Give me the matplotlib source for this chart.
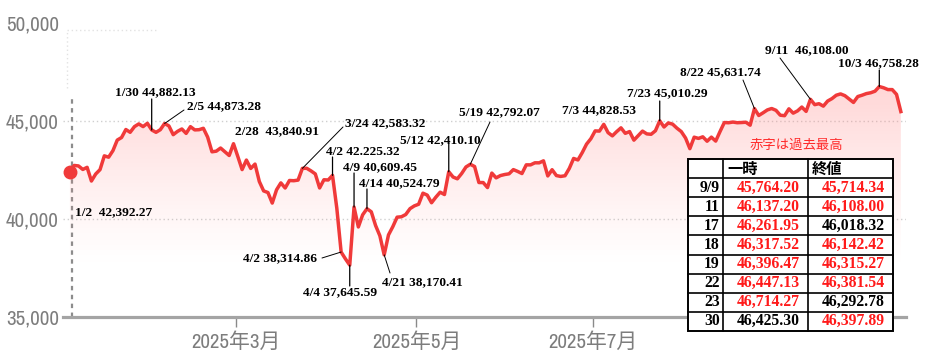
import numpy as np
import matplotlib
matplotlib.use('Agg')
import matplotlib.pyplot as plt
import matplotlib.transforms as mtransforms
from matplotlib.patches import Rectangle
from matplotlib import font_manager

# ---------------- data (daily closes, trading days 2025/1/2 - 10/10) ----------------
closes_jan = [42392, 42732, 42707, 42528, 42636, 41938, 42297, 42519, 43222, 43153,
              43488, 44026, 44157, 44565, 44424, 44714, 44851, 44714, 44882, 44545]
closes_feb = [44422, 44556, 44873, 44748, 44303, 44471, 44593, 44368, 44711, 44546,
              44556, 44628, 44177, 43428, 43461, 43621, 43434, 43240, 43841]
closes_mar = [43191, 42521, 43006, 42579, 42802, 41912, 41433, 41350, 40813, 41489,
              41842, 41582, 41965, 41953, 41985, 42583, 42588, 42455, 42300, 41584, 42002]
closes_apr = [41990, 42225, 40546, 38315, 37966, 37646, 40609, 39594, 40213, 40525,
              40369, 39669, 39142, 38170, 39187, 39607, 40093, 40114, 40228, 40528, 40669]
closes_may = [40753, 41317, 41219, 40829, 41114, 41368, 41249, 42410, 42141, 42051,
              42323, 42655, 42792, 42677, 41860, 41859, 41603, 42343, 42099, 42216, 42270]
closes_jun = [42305, 42520, 42428, 42320, 42763, 42762, 42867, 42866, 42968, 42198,
              42515, 42216, 42172, 42207, 42582, 43089, 43012, 43387, 43819, 44095]
closes_jul = [44495, 44485, 44829, 44406, 44241, 44458, 44651, 44371, 44460, 44023,
              44255, 44484, 44342, 44323, 44502, 45010, 44694, 44902, 44838, 44633,
              44461, 44131]
closes_aug = [43589, 44174, 44112, 44193, 43969, 44176, 43975, 44459, 44922, 44911,
              44946, 44912, 44922, 44938, 44786, 45632, 45282, 45418, 45565, 45637, 45545]
closes_sep = [45296, 45271, 45621, 45401, 45515, 45711, 45490, 46108, 45834, 45883,
              45758, 46018, 46142, 46315, 46382, 46293, 46121, 45947, 46247, 46316, 46398]
closes_oct = [46441, 46520, 46758, 46695, 46603, 46602, 46358, 45480]

months = [closes_jan, closes_feb, closes_mar, closes_apr, closes_may,
          closes_jun, closes_jul, closes_aug, closes_sep, closes_oct]
closes = np.array(sum(months, []), dtype=float)
month_first_idx = np.cumsum([0] + [len(m) for m in months])[:-1]

xtick_months = [3, 5, 7]
xtick_labels = ['2025年3月', '2025年5月', '2025年7月']
ytick_values = [35000, 40000, 45000, 50000]
ytick_labels = ['35,000', '40,000', '45,000', '50,000']

# annotations: (label, trading-day index)
ann_labels = ['1/30 44,882.13', '2/5 44,873.28', '2/28  43,840.91', '3/24 42,583.32',
              '4/2 42.225.32', '4/9 40,609.45', '4/14 40,524.79', '5/12 42,410.10',
              '5/19 42,792.07', '4/2 38,314.86', '4/4 37,645.59', '4/21 38,170.41',
              '1/2  42,392.27', '7/3 44,828.53', '7/23 45,010.29', '8/22 45,631.74',
              '9/11  46,108.00', '10/3 46,758.28']
ann_idx = [19, 22, 38, 54, 61, 66, 69, 88, 93, 63, 65, 73, 0, 124, 137, 159, 172, 188]

note_text = '赤字は過去最高'

tbl_header = ['一時', '終値']
tbl_dates = ['9/9', '11', '17', '18', '19', '22', '23', '30']
tbl_intraday = ['45,764.20', '46,137.20', '46,261.95', '46,317.52',
                '46,396.47', '46,447.13', '46,714.27', '46,425.30']
tbl_close = ['45,714.34', '46,108.00', '46,018.32', '46,142.42',
             '46,315.27', '46,381.54', '46,292.78', '46,397.89']
tbl_intraday_red = [True, True, True, True, True, True, True, False]
tbl_close_red = [True, True, False, True, True, True, False, True]

# ---------------- fonts: look for a narrow sans for the axis labels ----------------
narrow = None
for f in font_manager.fontManager.ttflist:
    if 'Narrow' in f.name or 'Condensed' in f.name:
        narrow = f.name
        break
if narrow is not None:
    tick_family_y = [narrow, 'DejaVu Sans']
    tick_family_x = [narrow, 'Noto Sans CJK JP']
    ysize, xsize = 15, 15
else:
    tick_family_y = ['Liberation Sans', 'DejaVu Sans']
    tick_family_x = ['Liberation Sans', 'Noto Sans CJK JP']
    ysize, xsize = 13.5, 12.8

# ---------------- figure ----------------
W, H = 929, 357
fig = plt.figure(figsize=(W / 100, H / 100), dpi=100)
ax_l, ax_r, ax_top, ax_bot = 63, 906, 23, 317
ax = fig.add_axes([ax_l / W, (H - ax_bot) / H, (ax_r - ax_l) / W, (ax_bot - ax_top) / H])
ov = fig.add_axes([0, 0, 1, 1], zorder=5)
ov.set_xlim(0, W)
ov.set_ylim(H, 0)
ov.axis('off')

x = np.arange(len(closes))
xmin, xmax = -1.6, 194.2
ax.set_xlim(xmin, xmax)
ax.set_ylim(35000, 50000)

RED = '#f03a3a'
GREY = '#7d7d7d'

# gradient fill under the line
poly = ax.fill_between(x, closes, 35000, color='none', lw=0)
vals = np.linspace(50000, 35000, 300)
alpha = np.clip((vals - 37600) / (46800 - 37600), 0, 1) ** 1.2 * 0.36
grad = np.zeros((300, 1, 4))
grad[..., 0] = 1.0
grad[..., 1] = 0.55
grad[..., 2] = 0.55
grad[..., 3] = alpha[:, None]
im = ax.imshow(grad, extent=[xmin, xmax, 35000, 50000], aspect='auto',
               origin='upper', zorder=1, interpolation='bilinear')
im.set_clip_path(poly.get_paths()[0], transform=ax.transData)

# grid lines
for gv in [40000, 45000]:
    ax.axhline(gv, color='#cfcfcf', lw=1, ls=(0, (1, 2)), zorder=0.5)
ax.plot([-0.6, 20], [49650, 49650], color='#e2e2e2', lw=1, ls=(0, (1, 2)), zorder=0.5)
ax.plot([-0.6, -0.6], [46700, 49650], color='#e2e2e2', lw=1, ls=(0, (1, 2)), zorder=0.5)
ax.plot([0.4, 0.4], [35000, 46330], color='#8c8c8c', lw=1.6, ls=(0, (2, 2)), zorder=0.6)

# price line
ax.plot(x, closes, color=RED, lw=2.5, zorder=3, solid_joinstyle='round')
ax.plot(x[0], closes[0], 'o', color=RED, ms=9, zorder=4)

# axes styling
for s in ['top', 'right', 'left']:
    ax.spines[s].set_visible(False)
ax.spines['bottom'].set_color('#a4a4a4')
ax.spines['bottom'].set_linewidth(2.3)
ax.set_yticks(ytick_values)
ax.set_yticklabels(ytick_labels)
xt = [month_first_idx[m - 1] - 0.5 for m in xtick_months]
ax.set_xticks(xt)
ax.set_xticklabels(xtick_labels)
ax.tick_params(axis='y', length=0, pad=3, labelsize=ysize, labelcolor=GREY)
ax.tick_params(axis='x', length=7, width=1, color='#8a8a8a', pad=4,
               labelsize=xsize, labelcolor=GREY)
for lab in ax.get_yticklabels():
    lab.set_family(tick_family_y)
for lab in ax.get_xticklabels():
    lab.set_family(tick_family_x)
ax.patch.set_visible(False)

# annotation texts (pixel positions: left, center y) and leader lines
ann_pos = [(115, 92), (187, 106), (235, 131), (345, 123), (326, 152), (343, 167),
           (359, 183), (400, 140), (459, 112), (243, 258), (303, 292), (382, 282),
           (75, 212), (562, 110), (627, 93), (680, 72), (765, 50), (838, 63)]
leaders = [('v', 99), ('d', 184, 110), None, ('d', 343, 127), ('v', 157), ('v', 173),
           ('v', 189), ('v', 143), ('d', 490, 122), ('d', 322, 258), ('v', 286),
           ('d', 390, 273), None, None, ('v', 101), ('d', 743, 80), ('d', 780, 58),
           ('v', 70)]
ann_font = dict(family='Liberation Serif', weight='bold', size=9.6, color='black')
blend = mtransforms.blended_transform_factory(ax.transData, ov.transData)
for lab, (px, py), idx, ld in zip(ann_labels, ann_pos, ann_idx, leaders):
    ov.text(px, py, lab, ha='left', va='center', **ann_font)
    if ld is None:
        continue
    if ld[0] == 'v':
        ax.annotate('', xy=(idx, closes[idx]), xycoords='data', xytext=(idx, ld[1]),
                    textcoords=blend,
                    arrowprops=dict(arrowstyle='-', lw=0.9, color='black',
                                    shrinkA=0, shrinkB=0))
    else:
        ax.annotate('', xy=(idx, closes[idx]), xycoords='data', xytext=(ld[1], ld[2]),
                    textcoords=ov.transData,
                    arrowprops=dict(arrowstyle='-', lw=0.7, color='black',
                                    shrinkA=0, shrinkB=0))

ov.text(750, 145, note_text, ha='left', va='center', color='#ff2a2a', size=9.6,
        family=['Noto Sans CJK JP', 'DejaVu Sans'])

# table
cols = [688, 723, 808, 893]
rows = [159 + i * 19.1 for i in range(10)]
ov.add_patch(Rectangle((cols[0], rows[0]), cols[-1] - cols[0], rows[-1] - rows[0],
                       facecolor='white', edgecolor='black', lw=1.4, zorder=1))
for cx in cols[1:-1]:
    ov.plot([cx, cx], [rows[0], rows[-1]], color='black', lw=1.2, zorder=2)
for ry in rows[1:-1]:
    ov.plot([cols[0], cols[-1]], [ry, ry], color='black', lw=1.2, zorder=2)
hdr_font = dict(family=['Noto Sans CJK JP', 'DejaVu Sans'], weight='bold', size=11,
                color='black')
ov.text(727, (rows[0] + rows[1]) / 2, tbl_header[0], ha='left', va='center', zorder=3, **hdr_font)
ov.text(812, (rows[0] + rows[1]) / 2, tbl_header[1], ha='left', va='center', zorder=3, **hdr_font)
cell_font = dict(family='Liberation Serif', weight='bold', size=11.3)
for i, (d, a, c, ar, cr) in enumerate(zip(tbl_dates, tbl_intraday, tbl_close,
                                         tbl_intraday_red, tbl_close_red)):
    cy = (rows[i + 1] + rows[i + 2]) / 2
    ov.text(720, cy, d, ha='right', va='center', color='black', zorder=3, **cell_font)
    ov.text(800, cy, a, ha='right', va='center', color='#ff1a1a' if ar else 'black',
            zorder=3, **cell_font)
    ov.text(885, cy, c, ha='right', va='center', color='#ff1a1a' if cr else 'black',
            zorder=3, **cell_font)

fig.savefig('out.png', dpi=100, facecolor='white')
